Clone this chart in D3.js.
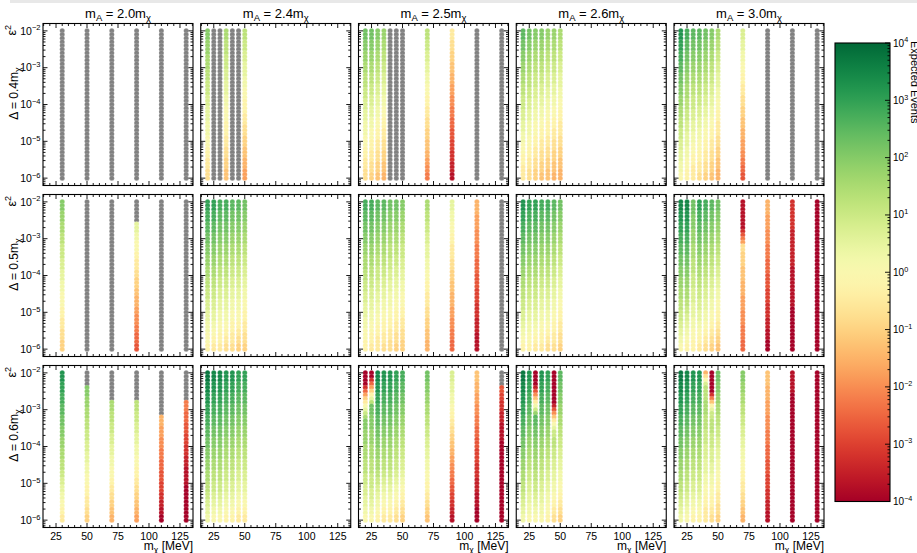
<!DOCTYPE html>
<html><head><meta charset="utf-8">
<script src="https://cdn.jsdelivr.net/npm/d3@7"></script>
<style>body{margin:0;background:#fff}text{font-family:"Liberation Sans",Arial,Helvetica,sans-serif;fill:#000}</style>
</head><body><svg id="c" width="917" height="553"></svg>
<script>
// ---------------- data ----------------
const ratioLabels = ["2.0","2.4","2.5","2.6","3.0"];
const deltaLabels = ["0.4","0.5","0.6"];
const massesMA20 = [30,50,70,90,110,130];
const massesMA24 = [20,25,30,35,40,45,50];
const massesMA25 = [20,25,30,35,40,45,50,70,90,110,130];
const massesMA26 = [20,25,30,35,40,45,50];
const massesMA30 = [20,25,30,35,40,45,50,70,90,110,130];
const xTicks = [25,50,75,100,125];
const yTickExps = [-2,-3,-4,-5,-6];
const cbarTickExps = [4,3,2,1,0,-1,-2,-3,-4];
// each column: run-length list of values along eps^2 = 1e-2 (top) ... 1e-6 (bottom)
// letter -> log10(expected events) = -4 + 0.25*index in levelCodes ; "." = excluded (gray)
const levelCodes = "ABCDEFGHIJKLMNOPQRSTUVWXYZabcdefg";
const eventsD04 = [
 [".41",".41",".41",".41",".41",".41"],
 ["Y3 X4 W4 V3 U4 T3 S4 R4 Q3 P3 O3 N3",".41",".41",
  "W3 V4 U4 T3 S4 R3 Q4 P4 O3 N3 M3 L3",".41",".41",
  "V3 U3 T3 S4 R3 Q3 P4 O3 N3 M3 L3 K3 J3"],
 ["Z3 Y3 X3 W3 V4 U3 T3 S3 R4 Q3 P3 O3 N3",
  "Z3 Y3 X3 W3 V3 U3 T3 S3 R3 Q3 P3 O3 N3 M2",
  "Y3 X3 W3 V3 U3 T3 S3 R3 Q3 P3 O3 N3 M3 L2",
  "X3 W3 V3 U3 T3 S3 R3 Q3 P3 O3 N3 M3 L3 K2",
  ".41",".41",".41",
  "V3 U3 T3 S3 R3 Q3 P3 O3 N3 M3 L3 K2 J2 I2 H2",
  "O3 N3 M3 L3 K3 J3 I3 H3 G3 F3 E3 D3 C3 B2",
  ".41",".41"],
 ["a3 Z3 Y3 X3 W3 V3 U4 T3 S3 R3 Q3 P3 O4",
  "Z3 Y3 X3 W3 V4 U3 T3 S3 R4 Q3 P3 O3 N3",
  "Y3 X3 W3 V3 U4 T3 S3 R3 Q4 P3 O3 N3 M3",
  "Y3 X3 W3 V3 U3 T3 S3 R3 Q3 P3 O3 N3 M3 L2",
  "X3 W3 V3 U3 T4 S3 R3 Q3 P4 O3 N3 M3 L3",
  "X3 W3 V3 U3 T3 S3 R3 Q3 P3 O3 N3 M3 L3 K2",
  "W3 V3 U3 T3 S4 R3 Q3 P3 O4 N3 M3 L3 K3"],
 ["d3 c3 b3 a3 Z3 Y3 X3 W3 V3 U3 T3 S3 R3 Q2",
  "b3 a3 Z3 Y3 X3 W4 V3 U3 T3 S4 R3 Q3 P3",
  "a3 Z3 Y3 X3 W3 V3 U4 T3 S3 R3 Q3 P3 O4",
  "a3 Z3 Y3 X3 W3 V3 U3 T3 S3 R3 Q3 P3 O3 N2",
  "Z3 Y3 X3 W3 V3 U3 T3 S3 R3 Q3 P3 O3 N3 M2",
  "Y3 X3 W3 V3 U3 T3 S3 R3 Q3 P3 O3 N3 M3 L2",
  "W3 V3 U3 T3 S4 R3 Q3 P3 O4 N3 M3 L3 K3",
  "T3 S3 R3 Q3 P3 O3 N3 M3 L3 K3 J3 I2 H2 G2 F2",
  ".41",".41",".41"]
];
const eventsD05 = [
 ["Y3 X3 W3 V3 U4 T3 S3 R3 Q4 P3 O3 N3 M3",".41",".41",
  ".6 S3 R2 Q3 P2 O3 N2 M3 L2 K3 J2 I3 H2 G3 F2",".41",".41"],
 ["c3 b3 a3 Z3 Y3 X3 W3 V3 U3 T3 S3 R3 Q3 P2",
  "c3 b3 a3 Z3 Y3 X3 W3 V3 U3 T3 S3 R2 Q2 P2 O2",
  "b3 a3 Z3 Y3 X3 W3 V3 U3 T3 S3 R3 Q3 P3 O2",
  "b3 a3 Z3 Y3 X3 W3 V3 U3 T3 S3 R3 Q2 P2 O2 N2",
  "a3 Z3 Y3 X3 W3 V3 U3 T3 S3 R3 Q3 P3 O3 N2",
  "a3 Z3 Y3 X3 W3 V3 U3 T3 S3 R3 Q3 P2 O2 N2 M2",
  "Z3 Y3 X3 W3 V3 U3 T3 S3 R3 Q3 P3 O3 N3 M2"],
 ["b3 a3 Z3 Y3 X3 W4 V3 U3 T3 S4 R3 Q3 P3",
  "b3 a3 Z3 Y3 X3 W3 V3 U3 T3 S3 R3 Q3 P3 O2",
  "a3 Z3 Y3 X3 W3 V3 U4 T3 S3 R3 Q3 P3 O4",
  "a3 Z3 Y3 X3 W3 V3 U3 T3 S3 R3 Q3 P3 O3 N2",
  "Z3 Y3 X3 W3 V4 U3 T3 S3 R4 Q3 P3 O3 N3",
  "Z3 Y3 X3 W3 V3 U3 T3 S3 R3 Q3 P3 O3 N3 M2",
  "Y3 X3 W3 V3 U4 T3 S3 R3 Q4 P3 O3 N3 M3",
  "W3 V3 U3 T3 S4 R3 Q3 P3 O4 N3 M3 L3 K3",
  "S3 R3 Q3 P3 O4 N3 M3 L3 K4 J3 I3 H3 G3",
  "K4 J4 I4 H4 G4 F4 E4 D4 C4 B5",
  ".41"],
 ["d3 c3 b3 a3 Z3 Y3 X3 W3 V3 U3 T3 S2 R2 Q2 P2",
  "c3 b3 a3 Z3 Y3 X3 W3 V3 U3 T3 S3 R3 Q3 P2",
  "c3 b3 a3 Z3 Y3 X3 W3 V3 U3 T3 S3 R2 Q2 P2 O2",
  "b3 a3 Z3 Y3 X3 W3 V3 U3 T3 S3 R3 Q3 P3 O2",
  "b3 a3 Z3 Y3 X3 W3 V3 U3 T3 S3 R3 Q2 P2 O2 N2",
  "a3 Z3 Y3 X3 W3 V3 U3 T3 S3 R3 Q3 P3 O3 N2",
  "Z3 Y3 X3 W3 V3 U3 T3 S3 R3 Q3 P3 O3 N3 M2"],
 ["e3 d3 c3 b3 a3 Z3 Y3 X3 W3 V3 U3 T2 S2 R2 Q2",
  "e3 d3 c3 b3 a3 Z3 Y3 X3 W3 V2 U2 T2 S2 R2 Q2 P2",
  "Z4 Y4 X4 W4 V4 U4 T4 S4 R3 Q3 P3",
  "c3 b3 a3 Z3 Y3 X3 W3 V3 U3 T3 S3 R2 Q2 P2 O2",
  "b3 a3 Z3 Y3 X3 W3 V3 U3 T3 S3 R3 Q2 P2 O2 N2",
  "a3 Z3 Y3 X3 W3 V3 U3 T3 S3 R3 Q3 P2 O2 N2 M2",
  "Z3 Y3 X3 W3 V3 U3 T3 S3 R3 Q3 P3 O2 N2 M2 L2",
  "B8 D1 F1 H1 J1 N2 M4 L4 K4 J4 I4 H4 G3",
  "K4 J4 I4 H4 G4 F4 E4 D4 C3 B3 A3",
  "D8 C10 B11 A12",
  "A41"]
];
const eventsD06 = [
 ["d3 c3 b3 a3 Z3 Y3 X3 W3 V3 U2 T2 S2 R2 Q2 P2 O2",
  ".4 Y3 X3 W3 V3 U3 T3 S3 R3 Q3 P3 O3 N2 M2",
  ".8 W3 V3 U3 T3 S3 R3 Q3 P2 O2 N2 M2 L2 K2",
  ".8 V3 U3 T3 S3 R3 Q3 P3 O2 N2 M2 L2 K2 J2",
  ".12 K3 J3 I3 H3 G3 F3 E3 D2 C2 B2 A2",
  ".8 H3 G3 F3 E3 D3 C3 B5 A10"],
 ["f3 e3 d3 c3 b3 a3 Z3 Y3 X3 W3 V3 U2 T2 S2 R2",
  "e3 d3 c3 b3 a3 Z3 Y3 X3 W3 V3 U3 T2 S2 R2 Q2",
  "e3 d3 c3 b3 a3 Z3 Y3 X3 W3 V3 U3 T2 S2 R2 Q2",
  "d3 c3 b3 a3 Z3 Y3 X3 W3 V3 U3 T3 S2 R2 Q2 P2",
  "d3 c3 b3 a3 Z3 Y3 X3 W3 V3 U3 T3 S2 R2 Q2 P2",
  "c3 b3 a3 Z3 Y3 X3 W3 V3 U3 T3 S3 R2 Q2 P2 O2",
  "c3 b3 a3 Z3 Y3 X3 W3 V3 U3 T3 S3 R2 Q2 P2 O2"],
 ["A4 D1 G1 J1 M1 O1 Q1 S1 U1 W1 Y3 X4 W4 V4 U3 T3 S3 R2 Q2",
  "A2 D1 G1 J1 M1 P1 S1 V1 Z3 Y4 X4 W4 V4 U4 T3 S2 R2 Q2",
  "e3 d3 c3 b3 a3 Z3 Y3 X3 W3 V2 U2 T2 S2 R2 Q2 P2",
  "d3 c3 b3 a3 Z3 Y3 X3 W3 V3 U2 T2 S2 R2 Q2 P2 O2",
  "d3 c3 b3 a3 Z3 Y3 X3 W3 V3 U2 T2 S2 R2 Q2 P2 O2",
  "c3 b3 a3 Z3 Y3 X3 W3 V3 U3 T2 S2 R2 Q2 P2 O2 N2",
  "b3 a3 Z3 Y3 X3 W3 V3 U3 T3 S2 R2 Q2 P2 O2 N2 M2",
  "Z3 Y3 X3 W3 V3 U3 T3 S3 R3 Q3 P3 O2 N2 M2 L2",
  "T3 S3 R3 Q2 P2 O2 N2 M2 L2 K2 J2 I2 H2 G2 F2 E2 D2 C2 B2",
  "L3 K3 J3 I3 H3 G3 F3 E4 D4 C4 B4 A4",
  ".4 F2 E2 D3 C3 B5 A22"],
 ["f3 e3 d3 c3 b3 a3 Z3 Y3 X3 W3 V3 U2 T2 S2 R2",
  "d3 c3 b3 a3 Z3 Y3 X3 W3 V3 U3 T3 S3 R3 Q2",
  "A4 C1 F1 I1 L1 O1 R1 U1 X1 a3 Z3 Y3 X3 W3 V3 U3 T2 S2 R2 Q2",
  "d3 c3 b3 a3 Z3 Y3 X3 W3 V3 U3 T3 S3 R3 Q2",
  "c3 b3 a3 Z3 Y3 X3 W3 V3 U3 T3 S3 R3 Q3 P2",
  "A9 C1 F1 I1 L1 O1 Q1 S1 U2 V3 U3 T3 S3 R3 Q2 P2 O2 N2",
  "a3 Z3 Y3 X3 W3 V3 U3 T3 S3 R3 Q3 P2 O2 N2 M2"],
 ["f3 e3 d3 c3 b3 a3 Z3 Y3 X3 W3 V3 U2 T2 S2 R2",
  "e3 d3 c3 b3 a3 Z3 Y3 X3 W3 V3 U3 T2 S2 R2 Q2",
  "d3 c3 b3 a3 Z3 Y3 X3 W3 V3 U3 T3 S2 R2 Q2 P2",
  "d3 c3 b3 a3 Z3 Y3 X3 W3 V3 U3 T3 S2 R2 Q2 P2",
  "K1 N1 Q1 T1 V4 W4 V4 U4 T4 S4 R3 Q3 P3 O4",
  "A6 D1 H1 L1 P1 S1 U2 V4 U4 T4 S3 R3 Q3 P3 O2 N2",
  "Z3 Y3 X3 W3 V3 U3 T3 S3 R3 Q3 P3 O3 N3 M2",
  "Y3 X3 W3 V3 U3 T3 S3 R3 Q3 P3 O3 N2 M2 L2 K2",
  "L4 K4 J4 I4 H4 G4 F4 E4 D3 C3 B3",
  "B6 A35",
  "A41"]
];
const massesByRatio = [massesMA20, massesMA24, massesMA25, massesMA26, massesMA30];
const eventsByDelta = [eventsD04, eventsD05, eventsD06];

// ---------------- drawing ----------------
const svg = d3.select("#c");
svg.append("rect").attr("width",917).attr("height",553).attr("fill","#fff");
svg.append("rect").attr("x",10).attr("y",0).attr("width",907).attr("height",3).attr("fill","#e8e8e8");

const PL0 = 43, PSX = 157.75, PW = 150;
const PT0 = 23.5, PSY = 171, PH = 162;
const color = d3.scaleSequentialLog(d3.interpolateRdYlGn).domain([1e-4,1e4]).clamp(true);
const GRAY = "#808080";

function decode(s){
  const out=[];
  s.trim().split(/\s+/).forEach(tok=>{
    const ch=tok[0], n=+tok.slice(1);
    for(let k=0;k<n;k++) out.push(ch==="." ? null : Math.pow(10, -4 + 0.25*levelCodes.indexOf(ch)));
  });
  return out;
}
function supText(g, base, sup, x, y, anchor, fs){
  const t=g.append("text").attr("x",x).attr("y",y).attr("text-anchor",anchor).attr("font-size",fs);
  t.append("tspan").text(base);
  t.append("tspan").attr("dy",-fs*0.42).attr("font-size",fs*0.72).text(sup);
  return t;
}
function expLabel(e){ return e<0 ? "\u2212"+(-e) : String(e); }

for(let r=0;r<3;r++){
  for(let c=0;c<5;c++){
    const x0 = PL0 + c*PSX, y0 = PT0 + r*PSY;
    const x = d3.scaleLinear().domain([14.5,135.5]).range([x0, x0+PW]);
    const y = d3.scaleLog().domain([Math.pow(10,-6.2), Math.pow(10,-1.8)]).range([y0+PH, y0]);
    const g = svg.append("g");
    const masses = massesByRatio[c];
    const cols = eventsByDelta[r][c];
    const pts = [];
    masses.forEach((m,k)=>{
      const vals = decode(cols[k]);
      const n = vals.length;
      vals.forEach((v,i)=>{
        const e2 = Math.pow(10, -2 - 4*i/(n-1));
        pts.push({m, e2, v});
      });
    });
    g.selectAll("circle").data(pts).join("circle")
      .attr("cx",d=>x(d.m)).attr("cy",d=>y(d.e2)).attr("r",2.5)
      .attr("fill",d=>d.v===null?GRAY:color(d.v))
      .attr("stroke","#fff").attr("stroke-opacity",0.35).attr("stroke-width",0.5);
    g.append("rect").attr("x",x0).attr("y",y0).attr("width",PW).attr("height",PH)
      .attr("fill","none").attr("stroke","#000").attr("stroke-width",1.1);
    const tk = g.append("g").attr("stroke","#000").attr("stroke-width",0.9);
    d3.range(15,136,5).forEach(v=>{
      const major = xTicks.includes(v); const L = major?4.5:2.5; const xx=x(v);
      tk.append("line").attr("x1",xx).attr("x2",xx).attr("y1",y0+PH).attr("y2",y0+PH-L);
      tk.append("line").attr("x1",xx).attr("x2",xx).attr("y1",y0).attr("y2",y0+L);
    });
    for(let d=-7; d<=-2; d++){
      for(let m=1;m<=9;m++){
        const v = m*Math.pow(10,d);
        if(v < Math.pow(10,-6.2) || v > Math.pow(10,-1.8)) continue;
        const L = m===1?4.5:2.5; const yy=y(v);
        tk.append("line").attr("x1",x0).attr("x2",x0+L).attr("y1",yy).attr("y2",yy);
        tk.append("line").attr("x1",x0+PW).attr("x2",x0+PW-L).attr("y1",yy).attr("y2",yy);
      }
    }
    if(c===0){
      yTickExps.forEach(e=>{
        supText(g,"10",expLabel(e),x0-2.5,y(Math.pow(10,e))+3.8,"end",10.5);
      });
      const rl = g.append("text").attr("font-size",12).attr("text-anchor","middle")
        .attr("transform",`translate(18,${y0+70}) rotate(-90)`);
      rl.append("tspan").text("\u0394 = "+deltaLabels[r]+"m");
      rl.append("tspan").attr("dy",3).attr("font-size",9).text("\u03c7");
      const el = g.append("text").attr("font-size",12.5).attr("text-anchor","end")
        .attr("transform",`translate(16,${y0+1.5}) rotate(-90)`);
      el.append("tspan").text("\u03b5");
      el.append("tspan").attr("dy",-5).attr("font-size",9).text("2");
    }
    if(r===2){
      xTicks.forEach(v=>{
        g.append("text").attr("x",x(v)).attr("y",y0+PH+12).attr("text-anchor","middle")
          .attr("font-size",10.5).text(v);
      });
      if(c!==1){
        const xl = g.append("text").attr("x",x0+PW).attr("y",y0+PH+22.5).attr("text-anchor","end").attr("font-size",12);
        xl.append("tspan").text("m");
        xl.append("tspan").attr("dy",2.5).attr("font-size",8.5).text("\u03c7");
        xl.append("tspan").attr("dy",-2.5).text(" [MeV]");
      }
    }
    if(r===0){
      const t = g.append("text").attr("x",x0+PW/2).attr("y",y0-6).attr("text-anchor","middle").attr("font-size",13);
      t.append("tspan").text("m");
      t.append("tspan").attr("dy",3).attr("font-size",9.5).text("A");
      t.append("tspan").attr("dy",-3).text(" = "+ratioLabels[c]+"m");
      t.append("tspan").attr("dy",3).attr("font-size",9.5).text("\u03c7");
    }
  }
}

// ---------------- colorbar ----------------
const CB = {x0:835, x1:890, y0:43, y1:501.5};
const cy = d3.scaleLog().domain([1e-4,1e4]).range([CB.y1, CB.y0]);
const defs = svg.append("defs");
const grad = defs.append("linearGradient").attr("id","cbg").attr("x1",0).attr("x2",0).attr("y1",1).attr("y2",0);
d3.range(0,1.0001,0.025).forEach(t=>{
  grad.append("stop").attr("offset",t).attr("stop-color",d3.interpolateRdYlGn(t));
});
svg.append("rect").attr("x",CB.x0).attr("y",CB.y0).attr("width",CB.x1-CB.x0).attr("height",CB.y1-CB.y0)
  .attr("fill","url(#cbg)").attr("stroke","#000").attr("stroke-width",1.1);
const ctk = svg.append("g").attr("stroke","#000").attr("stroke-width",0.9);
for(let d=-4; d<=4; d++){
  for(let m=1;m<=9;m++){
    const v = m*Math.pow(10,d);
    if(v>1e4) continue;
    const L = m===1?5:2.5, yy=cy(v);
    ctk.append("line").attr("x1",CB.x1).attr("x2",CB.x1-L).attr("y1",yy).attr("y2",yy);
  }
}
cbarTickExps.forEach(e=>{
  supText(svg,"10",expLabel(e),CB.x1+3,cy(Math.pow(10,e))+3.5,"start",10);
});
svg.append("text").attr("font-size",11).attr("text-anchor","start")
  .attr("transform","translate(911,41) rotate(90)").text("Expected Events");
</script></body></html>
